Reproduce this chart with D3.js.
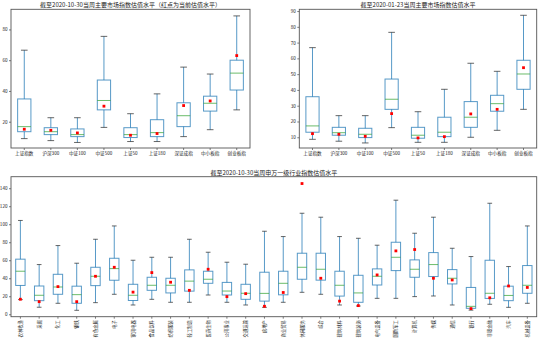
<!DOCTYPE html>
<html>
<head>
<meta charset="utf-8">
<script src="https://cdn.jsdelivr.net/npm/d3@7/dist/d3.min.js"></script>
<style>
body { margin: 0; background: #fff; }
svg text { font-family: "Noto Sans CJK SC", "DejaVu Sans", sans-serif; fill: #222; }
</style>
</head>
<body>
<div id="chart-area"></div>
<script>
// 主要市场指数
var indexNames = ["上证指数", "沪深300", "中证100", "中证500", "上证50", "上证180", "深证成指", "中小板指", "创业板指"];

// 截至2020-10-30
var octLow  = [9.0, 7.7, 6.5, 16.3, 7.1, 7.1, 10.3, 14.8, 27.7];
var octQ1   = [13.5, 11.6, 10.3, 27.7, 9.7, 10.3, 16.8, 26.9, 40.6];
var octMed  = [16.8, 13.5, 11.6, 33.8, 11.6, 12.9, 23.9, 32.0, 51.6];
var octQ3   = [34.8, 16.1, 15.3, 47.1, 16.1, 21.3, 32.3, 36.6, 60.0];
var octHigh = [66.5, 22.6, 22.6, 75.5, 25.2, 38.1, 55.5, 51.0, 88.8];
var octNow  = [15.1, 14.4, 12.7, 30.1, 11.2, 12.3, 30.5, 33.5, 63.0];

// 截至2020-01-23
var janLow  = [8.7, 7.5, 6.4, 16.1, 6.8, 6.8, 10.0, 14.4, 27.7];
var janQ1   = [13.2, 11.3, 9.8, 27.7, 9.4, 10.4, 16.3, 26.5, 40.4];
var janMed  = [17.2, 12.9, 11.9, 34.1, 11.3, 13.2, 22.7, 31.3, 50.1];
var janQ3   = [35.7, 16.3, 15.7, 46.9, 16.3, 22.7, 32.6, 36.6, 58.8];
var janHigh = [66.8, 23.7, 23.7, 76.5, 26.2, 40.4, 56.9, 51.8, 87.3];
var janNow  = [12.3, 11.9, 10.6, 25.0, 9.6, 10.4, 24.8, 27.7, 54.1];

// 申万一级行业
var industries = ["农林牧渔", "采掘", "化工", "钢铁", "有色金属", "电子", "家用电器", "食品饮料",
  "纺织服装", "轻工制造", "医药生物", "公用事业", "交通运输", "房地产", "商业贸易", "休闲服务",
  "综合", "建筑材料", "建筑装饰", "电气设备", "国防军工", "计算机", "传媒", "通信", "银行",
  "非银金融", "汽车", "机械设备"];
var indLow  = [16.3, 7.8, 12.2, 4.4, 12.9, 22.2, 10.3, 16.6, 13.3, 13.3, 21.4, 13.3, 10.3, 7.7,
  13.3, 24.4, 22.2, 10.3, 9.2, 17.7, 17.7, 19.6, 20.3, 10.3, 4.6, 11.1, 7.7, 12.2];
var indQ1   = [32.0, 15.1, 22.2, 12.2, 31.8, 37.8, 15.3, 26.6, 23.7, 25.7, 34.4, 21.4, 16.6, 14.6,
  21.6, 38.9, 37.9, 20.2, 13.3, 32.5, 48.5, 41.1, 41.9, 33.7, 6.6, 17.6, 15.1, 23.3];
var indMed  = [47.8, 21.1, 30.3, 21.8, 42.2, 50.7, 21.1, 32.2, 32.2, 36.8, 38.9, 25.8, 23.3, 23.2,
  34.4, 52.2, 50.0, 32.2, 23.7, 42.2, 63.3, 50.0, 55.2, 40.0, 8.8, 23.3, 20.9, 32.2];
var indQ3   = [61.2, 31.4, 44.4, 31.2, 52.2, 62.2, 33.3, 41.1, 40.0, 49.3, 47.8, 35.4, 33.3, 46.7,
  47.8, 67.8, 67.8, 47.8, 43.3, 50.4, 80.0, 60.4, 68.5, 49.6, 29.8, 60.0, 31.2, 54.1];
var indHigh = [104.2, 55.2, 76.3, 56.7, 83.3, 98.1, 60.0, 63.3, 63.3, 83.3, 68.9, 57.8, 55.6, 92.2,
  86.3, 112.2, 107.8, 86.3, 84.4, 76.7, 126.7, 90.0, 107.8, 73.3, 64.1, 123.3, 53.0, 98.1];
var indNow  = [16.7, 14.0, 30.7, 14.0, 42.2, 52.2, 24.6, 46.3, 35.6, 26.6, 50.0, 19.6, 22.9, 8.9,
  24.2, 145.2, 40.0, 14.6, 9.6, 43.7, 70.4, 71.9, 40.0, 38.1, 6.3, 18.3, 31.4, 29.8];

var boxColor = "#1f77b4";
var medianColor = "#2ca02c";
var capColor = "#333";

var svg = d3.select("#chart-area")
  .append("svg")
  .attr("width", 540)
  .attr("height", 342);

function drawPanel(p) {
  var width = p.right - p.left;
  var height = p.bottom - p.top;

  var g = svg.append("g")
    .attr("transform", "translate(" + p.left + ", " + p.top + ")");

  var x = d3.scaleBand()
    .domain(p.cats)
    .range([0, width]);
  var y = d3.scaleLinear()
    .domain(p.yDomain)
    .range([height, 0]);

  // axes
  var xAxisGroup = g.append("g")
    .attr("transform", "translate(0, " + height + ")")
    .call(d3.axisBottom(x).tickSize(2).tickPadding(1.5));
  var yAxisGroup = g.append("g")
    .call(d3.axisLeft(y).tickValues(p.yTicks).tickSize(2).tickPadding(1.5));

  [xAxisGroup, yAxisGroup].forEach(function(a){
    a.select(".domain").remove();
    a.selectAll("line").attr("stroke", "#444").attr("stroke-width", 0.7);
    a.selectAll("text").attr("font-size", 4.6).attr("fill", "#222");
  });

  if (p.rotate) {
    xAxisGroup.selectAll("text")
      .attr("text-anchor", "end")
      .attr("transform", "rotate(-90)")
      .attr("x", -3.5)
      .attr("y", 0)
      .attr("dy", "0.35em")
      .attr("font-size", 4.3);
  }

  var half = x.bandwidth() * 0.25;
  var capHalf = half / 2;

  var boxes = g.selectAll(".box")
    .data(p.cats.map(function(c, i){
      return { cat: c, low: p.low[i], q1: p.q1[i], med: p.med[i], q3: p.q3[i], high: p.high[i], now: p.now[i] };
    }))
    .enter()
    .append("g")
    .attr("class", "box")
    .attr("transform", function(d){
      return "translate(" + (x(d.cat) + x.bandwidth() / 2) + ", 0)";
    });

  // whiskers
  boxes.append("line")
    .attr("y1", function(d){ return y(d.q3); })
    .attr("y2", function(d){ return y(d.high); })
    .attr("stroke", boxColor).attr("stroke-opacity", 0.75).attr("stroke-width", 1);
  boxes.append("line")
    .attr("y1", function(d){ return y(d.q1); })
    .attr("y2", function(d){ return y(d.low); })
    .attr("stroke", boxColor).attr("stroke-opacity", 0.75).attr("stroke-width", 1);

  // caps
  boxes.selectAll(".cap")
    .data(function(d){ return [d.low, d.high]; })
    .enter()
    .append("line")
    .attr("x1", -capHalf)
    .attr("x2", capHalf)
    .attr("y1", function(v){ return y(v); })
    .attr("y2", function(v){ return y(v); })
    .attr("stroke", capColor).attr("stroke-opacity", 0.75).attr("stroke-width", 1);

  // box
  boxes.append("rect")
    .attr("x", -half)
    .attr("width", half * 2)
    .attr("y", function(d){ return y(d.q3); })
    .attr("height", function(d){ return y(d.q1) - y(d.q3); })
    .attr("fill", "none")
    .attr("stroke", boxColor).attr("stroke-opacity", 0.75).attr("stroke-width", 1);

  // median
  boxes.append("line")
    .attr("x1", -half)
    .attr("x2", half)
    .attr("y1", function(d){ return y(d.med); })
    .attr("y2", function(d){ return y(d.med); })
    .attr("stroke", medianColor).attr("stroke-opacity", 0.7).attr("stroke-width", 1);

  // current value
  boxes.append("rect")
    .attr("x", -1.4)
    .attr("y", function(d){ return y(d.now) - 1.4; })
    .attr("width", 2.8)
    .attr("height", 2.8)
    .attr("fill", "red");

  // frame
  g.append("rect")
    .attr("width", width)
    .attr("height", height)
    .attr("fill", "none")
    .attr("stroke", "#555")
    .attr("stroke-width", 0.9);

  g.append("text")
    .attr("x", width / 2)
    .attr("y", -2)
    .attr("text-anchor", "middle")
    .attr("font-size", 6)
    .text(p.title);
}

drawPanel({
  left: 11, right: 250, top: 9.3, bottom: 148,
  title: "截至2020-10-30当周主要市场指数估值水平（红点为当前估值水平）",
  cats: indexNames,
  low: octLow, q1: octQ1, med: octMed, q3: octQ3, high: octHigh, now: octNow,
  yDomain: [2.9, 93.1], yTicks: [20, 40, 60, 80]
});

drawPanel({
  left: 299.3, right: 536.7, top: 9.3, bottom: 148,
  title: "截至2020-01-23当周主要市场指数估值水平",
  cats: indexNames,
  low: janLow, q1: janQ1, med: janMed, q3: janQ3, high: janHigh, now: janNow,
  yDomain: [3.2, 91.1], yTicks: [10, 20, 30, 40, 50, 60, 70, 80, 90]
});

drawPanel({
  left: 11, right: 536.7, top: 176.7, bottom: 316.7,
  title: "截至2020-10-30当周申万一级行业指数估值水平",
  cats: industries,
  low: indLow, q1: indQ1, med: indMed, q3: indQ3, high: indHigh, now: indNow,
  yDomain: [-2.7, 152.8], yTicks: [0, 20, 40, 60, 80, 100, 120, 140],
  rotate: true
});
</script>
</body>
</html>
